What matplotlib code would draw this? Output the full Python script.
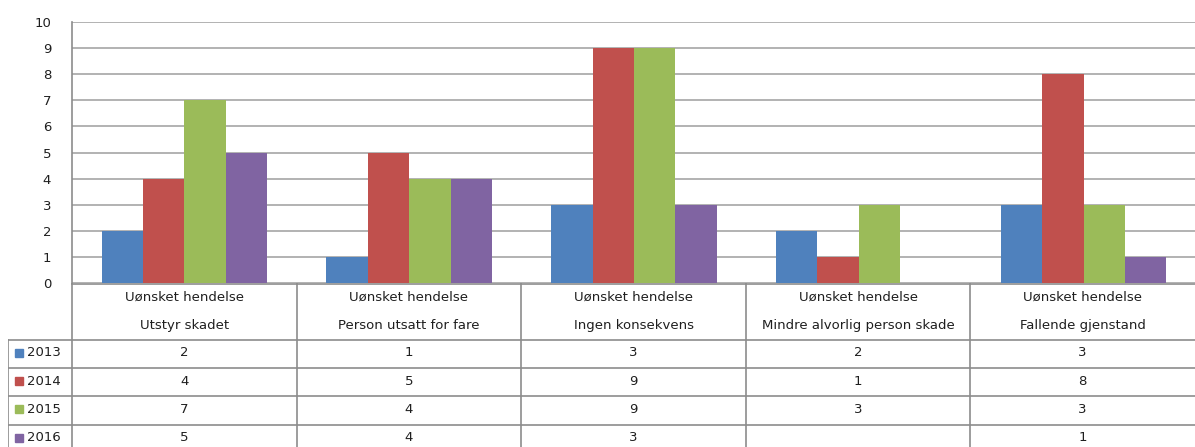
import matplotlib

matplotlib.use("Agg")

import matplotlib.pyplot as plt
import numpy as np

categories_top = ["Uønsket hendelse"] * 5
categories_bottom = [
    "Utstyr skadet",
    "Person utsatt for fare",
    "Ingen konsekvens",
    "Mindre alvorlig person skade",
    "Fallende gjenstand",
]
years = ["2013", "2014", "2015", "2016"]
values_2013 = [2, 1, 3, 2, 3]
values_2014 = [4, 5, 9, 1, 8]
values_2015 = [7, 4, 9, 3, 3]
values_2016 = [5, 4, 3, None, 1]
series = [values_2013, values_2014, values_2015, values_2016]
colors = ["#4F81BD", "#C0504D", "#9BBB59", "#8064A2"]

W, H = 1195, 447
GRID = "#a6a6a6"
LINE = "#8c8c8c"
TEXT = "#1f1f1f"
FONT = "DejaVu Sans"

fig = plt.figure(figsize=(W / 100, H / 100), dpi=100)


def px_axes(x0, y0, x1, y1):
    return fig.add_axes([x0 / W, 1 - y1 / H, (x1 - x0) / W, (y1 - y0) / H])


# chart area
ax = px_axes(72, 22, W + 1, 283)
n = len(categories_bottom)
x = np.arange(n)
bar_w = 0.184
for i, (vals, c) in enumerate(zip(series, colors)):
    xs = x + (i - 1.5) * bar_w
    hs = [v if v is not None else 0 for v in vals]
    ax.bar(xs, hs, width=bar_w, color=c, zorder=3, linewidth=0)

ax.set_xlim(-0.5, n - 0.5)
ax.set_ylim(0, 10)
ax.set_yticks(range(0, 11))
ax.yaxis.grid(True, color=GRID, linewidth=1.2, zorder=0)
ax.set_xticks([])
ax.tick_params(axis="y", length=0, pad=15, labelsize=9.5, labelcolor=TEXT)
for lab in ax.get_yticklabels():
    lab.set_fontfamily(FONT)
for s in ["top", "right", "bottom"]:
    ax.spines[s].set_visible(False)
ax.spines["left"].set_color(LINE)
ax.spines["left"].set_linewidth(1.2)

# data table below
row_h = 28.2
tab_top = 283
tab = px_axes(8, tab_top, W + 1, H)
tab.set_xlim(8, W + 1)
tab.set_ylim(H - tab_top, 0)
tab.axis("off")

col_edges = [72 + (W - 72) / n * k for k in range(n + 1)]
hdr_bottom = 2 * row_h + 0.5
row_lines = [hdr_bottom + row_h * k for k in range(5)]

lw = 1.2
# top line of table (axis line)
tab.plot([72, W + 1], [0.5, 0.5], color=LINE, lw=lw, clip_on=False)
# horizontal row lines
for yy in row_lines:
    tab.plot([8, W + 1], [yy, yy], color=LINE, lw=lw)
# vertical lines
for xe in col_edges[:-1]:
    tab.plot([xe, xe], [0, H], color=LINE, lw=lw)
tab.plot([8, 8], [hdr_bottom, H], color=LINE, lw=lw)

# header text
for k in range(n):
    cx = (col_edges[k] + col_edges[k + 1]) / 2
    tab.text(cx, row_h * 0.5, categories_top[k], ha="center", va="center",
             fontsize=9.5, color=TEXT, family=FONT)
    tab.text(cx, row_h * 1.5 + 0.5, categories_bottom[k], ha="center", va="center",
             fontsize=9.5, color=TEXT, family=FONT)

# data rows
for r, (yr, vals, c) in enumerate(zip(years, series, colors)):
    cy = hdr_bottom + row_h * (r + 0.5) - 1
    tab.add_patch(plt.Rectangle((15, cy - 4), 8, 8, color=c, clip_on=True))
    tab.text(27, cy, yr, ha="left", va="center", fontsize=9.5, color=TEXT, family=FONT)
    for k, v in enumerate(vals):
        if v is None:
            continue
        cx = (col_edges[k] + col_edges[k + 1]) / 2
        tab.text(cx, cy, str(v), ha="center", va="center", fontsize=9.5,
                 color=TEXT, family=FONT)

fig.savefig("out.png", dpi=100)
